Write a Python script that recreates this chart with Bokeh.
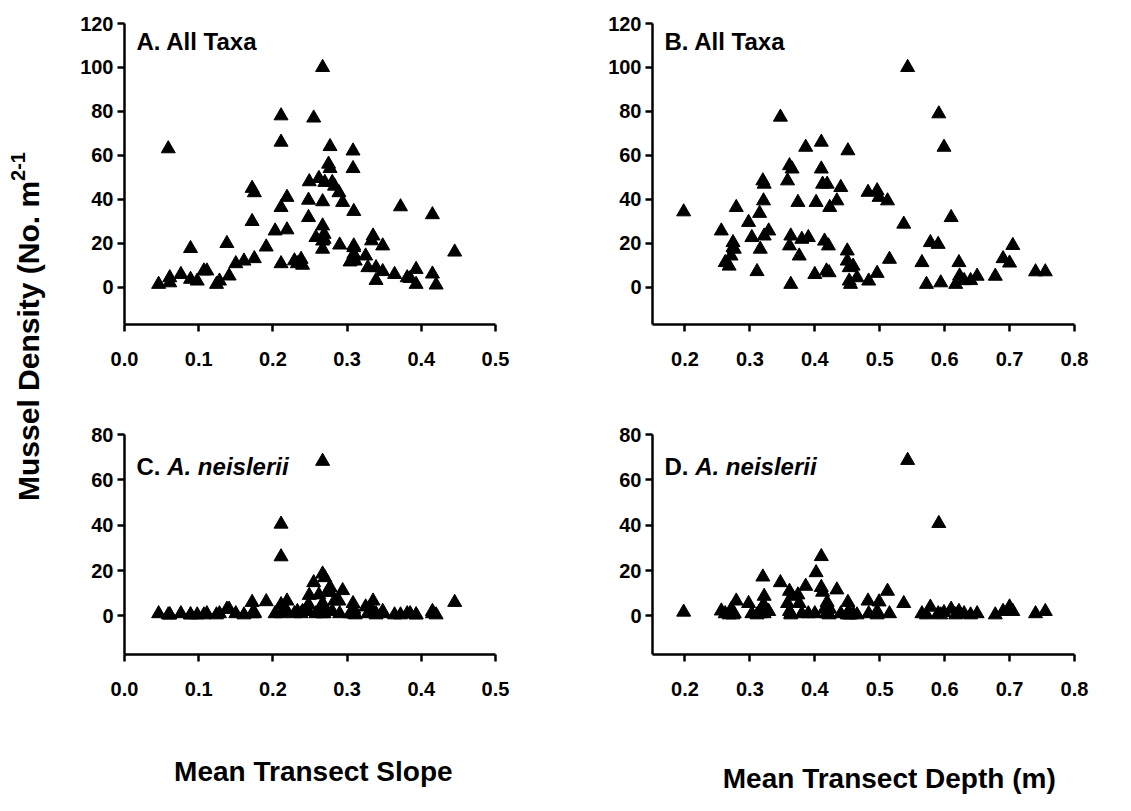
import math
from bokeh.plotting import figure
from bokeh.models import Range1d, FixedTicker, Label, NumeralTickFormatter
from bokeh.layouts import row, column
from bokeh.embed import file_html
from bokeh.resources import INLINE

FONT = "Liberation Sans"

# ---- Data: Mean transect slope (panels A and C) ----
slope = [0.046, 0.059, 0.061, 0.061, 0.076, 0.089, 0.089, 0.098, 0.107, 0.111,
         0.124, 0.128, 0.138, 0.141, 0.150, 0.161, 0.172, 0.172, 0.175, 0.175,
         0.191, 0.203, 0.211, 0.211, 0.211, 0.211, 0.219, 0.219, 0.229, 0.233,
         0.238, 0.240, 0.248, 0.248, 0.249, 0.255, 0.258, 0.262, 0.267, 0.267,
         0.267, 0.267, 0.267, 0.269, 0.269, 0.270, 0.275, 0.277, 0.277, 0.280,
         0.283, 0.289, 0.290, 0.294, 0.304, 0.308, 0.308, 0.309, 0.309, 0.309,
         0.309, 0.311, 0.325, 0.328, 0.333, 0.335, 0.339, 0.339, 0.348, 0.348,
         0.364, 0.372, 0.381, 0.385, 0.393, 0.393, 0.415, 0.415, 0.420, 0.445]
all_taxa_slope = [1.3, 63.0, 4.3, 2.0, 5.8, 17.6, 3.6, 2.8, 7.4, 7.4,
                  1.3, 2.8, 19.9, 5.1, 10.7, 11.9, 45.0, 29.9, 43.0, 13.0,
                  18.3, 25.6, 78.0, 66.0, 36.3, 10.7, 40.9, 26.1, 12.0, 10.7,
                  12.7, 10.0, 39.6, 31.7, 48.0, 77.0, 22.6, 49.5, 100.0, 38.9,
                  27.9, 21.0, 17.3, 24.1, 21.8, 47.7, 56.0, 64.0, 54.0, 47.7,
                  46.0, 43.0, 19.2, 38.6, 11.5, 62.0, 54.0, 34.5, 18.8, 18.0,
                  15.0, 11.9, 14.2, 8.9, 21.1, 23.3, 8.9, 3.1, 18.8, 7.1,
                  5.8, 36.6, 4.3, 4.0, 8.1, 1.3, 33.0, 6.0, 1.0, 16.0]
neisleri_slope = [1.0, 0.5, 0.5, 0.5, 1.0, 0.5, 0.5, 0.5, 0.5, 1.0,
                  0.5, 1.0, 3.0, 3.0, 1.0, 0.5, 6.0, 1.0, 1.5, 1.0,
                  6.3, 1.0, 40.5, 26.1, 5.0, 1.0, 6.6, 2.0, 1.0, 2.0,
                  1.0, 2.0, 2.0, 5.0, 9.1, 14.7, 1.0, 9.3, 68.2, 18.5,
                  5.5, 4.0, 1.0, 1.0, 3.0, 16.9, 11.5, 12.6, 10.4, 2.0,
                  6.6, 6.6, 1.0, 11.2, 1.0, 5.5, 1.0, 1.0, 3.0, 1.0,
                  2.0, 0.5, 4.0, 1.0, 3.0, 6.6, 1.0, 0.5, 2.0, 1.0,
                  0.5, 0.5, 1.0, 1.0, 0.5, 0.5, 2.0, 1.0, 0.5, 6.0]

# ---- Data: Mean transect depth (panels B and D) ----
depth = [0.198, 0.256, 0.279, 0.262, 0.268, 0.271, 0.274, 0.274, 0.276, 0.298,
         0.303, 0.311, 0.315, 0.316, 0.320, 0.322, 0.321, 0.322, 0.329, 0.347,
         0.358, 0.361, 0.365, 0.361, 0.363, 0.363, 0.374, 0.376, 0.380, 0.390,
         0.386, 0.400, 0.402, 0.410, 0.410, 0.412, 0.415, 0.418, 0.419, 0.421,
         0.422, 0.423, 0.434, 0.440, 0.451, 0.450, 0.450, 0.453, 0.453, 0.455,
         0.459, 0.465, 0.482, 0.483, 0.496, 0.499, 0.496, 0.512, 0.515, 0.537,
         0.543, 0.565, 0.572, 0.578, 0.590, 0.591, 0.599, 0.594, 0.610, 0.617,
         0.622, 0.623, 0.630, 0.640, 0.650, 0.678, 0.690, 0.700, 0.705, 0.740,
         0.755]
all_taxa_depth = [34.3, 25.6, 36.3, 11.2, 9.6, 14.2, 20.3, 18.0, 17.3, 29.5,
                  22.6, 7.1, 33.6, 17.3, 48.4, 46.9, 39.3, 23.3, 25.6, 77.4,
                  48.4, 55.3, 53.8, 18.8, 23.3, 1.3, 38.6, 14.2, 21.8, 22.6,
                  63.7, 5.8, 38.6, 66.0, 53.8, 46.9, 21.0, 7.4, 46.9, 18.8,
                  6.6, 36.3, 39.3, 45.4, 62.1, 16.5, 11.9, 8.9, 2.8, 1.3,
                  9.6, 4.3, 43.2, 2.8, 43.9, 40.9, 6.3, 39.3, 12.7, 28.7,
                  100.0, 11.2, 1.3, 20.3, 19.5, 78.9, 63.7, 2.0, 31.7, 1.3,
                  11.2, 5.1, 3.0, 3.0, 5.0, 5.0, 13.0, 11.0, 19.0, 7.0,
                  7.0]
neisleri_depth = [1.7, 2.2, 6.6, 1.0, 0.5, 2.8, 1.0, 0.5, 1.0, 5.5,
                  1.0, 0.5, 2.0, 1.0, 17.2, 8.7, 5.0, 1.0, 2.0, 14.7,
                  5.5, 10.9, 8.7, 2.0, 1.0, 0.5, 9.3, 5.5, 1.0, 1.0,
                  13.1, 1.0, 19.1, 26.2, 12.6, 10.5, 3.0, 1.0, 6.0, 1.0,
                  0.5, 3.0, 11.5, 1.0, 6.0, 1.0, 0.5, 1.0, 0.5, 0.5,
                  1.0, 0.5, 6.6, 1.0, 2.0, 6.2, 0.5, 10.9, 1.0, 5.5,
                  68.6, 1.0, 0.5, 3.9, 1.0, 40.8, 1.5, 0.5, 3.0, 0.5,
                  2.0, 1.0, 1.0, 0.5, 1.0, 0.5, 2.0, 4.0, 2.0, 1.0,
                  2.0]

slope_ticks = [0.0, 0.1, 0.2, 0.3, 0.4, 0.5]
depth_ticks = [0.2, 0.3, 0.4, 0.5, 0.6, 0.7, 0.8]
all_ticks = [0, 20, 40, 60, 80, 100, 120]
neis_ticks = [0, 20, 40, 60, 80]

y_label = "Mussel Density (No. m"
y_label_sup = "2-1"
x_label_slope = "Mean Transect Slope"
x_label_depth = "Mean Transect Depth (m)"


def panel(x, y, xr, yr, xticks, yticks, width, height, bl, br, bt, bb,
          title_parts, title_drop):
    p = figure(width=width, height=height, x_range=Range1d(*xr), y_range=Range1d(*yr),
               output_backend="svg", toolbar_location=None,
               min_border_left=bl, min_border_right=br, min_border_top=bt, min_border_bottom=bb)
    p.grid.visible = False
    p.outline_line_color = None
    p.background_fill_color = "white"
    p.border_fill_color = "white"
    p.scatter(x, y, marker="triangle", size=14, fill_color="black", line_color="black", line_width=1)
    for ax in (p.xaxis[0], p.yaxis[0]):
        ax.axis_line_width = 2.5
        ax.axis_line_color = "black"
        ax.major_tick_line_width = 2.5
        ax.major_tick_line_color = "black"
        ax.major_tick_out = 7
        ax.major_tick_in = 0
        ax.minor_tick_out = 0
        ax.minor_tick_in = 0
        ax.major_label_text_font = FONT
        ax.major_label_text_font_style = "bold"
        ax.major_label_text_font_size = "20px"
        ax.major_label_text_color = "black"
    p.xaxis.major_label_standoff = 20
    p.yaxis.major_label_standoff = 4
    p.xaxis.ticker = FixedTicker(ticks=xticks)
    p.xaxis.formatter = NumeralTickFormatter(format="0.0")
    p.yaxis.ticker = FixedTicker(ticks=yticks)
    p.yaxis.formatter = NumeralTickFormatter(format="0")
    fh = height - bt - bb
    xpos = 12
    for text, style, w in title_parts:
        p.add_layout(Label(x=xpos, y=fh - title_drop, x_units="screen", y_units="screen",
                           text=text, text_font=FONT, text_font_style=style,
                           text_font_size="24px", text_color="black",
                           text_align="left", text_baseline="alphabetic"))
        xpos += w
    return p


def text_strip(width, height, text, cx, baseline_y):
    f = figure(width=width, height=height, x_range=Range1d(0, width), y_range=Range1d(0, height),
               output_backend="svg", toolbar_location=None, min_border=0,
               x_axis_location=None, y_axis_location=None)
    f.outline_line_color = None
    f.grid.visible = False
    f.add_layout(Label(x=cx, y=baseline_y, text=text, text_font=FONT, text_font_style="bold",
                       text_font_size="28px", text_color="black",
                       text_align="center", text_baseline="alphabetic"))
    return f


# figure sizes (borders + frames)
LA, FWA, RA = 69, 371, 60
LB, FWB, RB = 97, 422, 30
WA = LA + FWA + RA
WB = LB + FWB + RB
HA = 23 + 301 + 80
HC = 30 + 220 + 60
HX = 81

pA = panel(slope, all_taxa_slope, (0.0, 0.5), (-17, 120), slope_ticks, all_ticks,
           WA, HA, LA, RA, 23, 80, [("A. All Taxa", "bold", 0)], 18)
pB = panel(depth, all_taxa_depth, (0.15, 0.8), (-17, 120), depth_ticks, all_ticks,
           WB, HA, LB, RB, 23, 80, [("B. All Taxa", "bold", 0)], 18)
pC = panel(slope, neisleri_slope, (0.0, 0.5), (-17, 80), slope_ticks, neis_ticks,
           WA, HC, LA, RA, 30, 60, [("C. ", "bold", 30.7), ("A. neislerii", "bold italic", 0)], 32)
pD = panel(depth, neisleri_depth, (0.15, 0.8), (-17, 80), depth_ticks, neis_ticks,
           WB, HC, LB, RB, 30, 60, [("D. ", "bold", 30.7), ("A. neislerii", "bold italic", 0)], 32)

xA = text_strip(WA, HX, x_label_slope, LA + FWA / 2, 24)
xB = text_strip(WB, HX, x_label_depth, LB + FWB / 2, 17)

H = HA + HC + HX
W0 = 55
ylab = figure(width=W0, height=H, x_range=Range1d(0, W0), y_range=Range1d(0, H),
              output_backend="svg", toolbar_location=None, min_border=0,
              x_axis_location=None, y_axis_location=None)
ylab.outline_line_color = None
ylab.grid.visible = False
fs_main, fs_sup = 30, 20
main_len = 10.669 * fs_main
sup_len = 1.445 * fs_sup
start = (H - 326) - (main_len + sup_len) / 2
ylab.add_layout(Label(x=28, y=start, text=y_label, angle=math.pi / 2,
                      text_font=FONT, text_font_style="bold", text_font_size=f"{fs_main}px",
                      text_color="black", text_align="left", text_baseline="middle"))
ylab.add_layout(Label(x=17, y=start + main_len, text=y_label_sup, angle=math.pi / 2,
                      text_font=FONT, text_font_style="bold", text_font_size=f"{fs_sup}px",
                      text_color="black", text_align="left", text_baseline="middle"))

layout = row(ylab, column(pA, pC, xA), column(pB, pD, xB))
open("out.html", "w").write(file_html(layout, INLINE))
